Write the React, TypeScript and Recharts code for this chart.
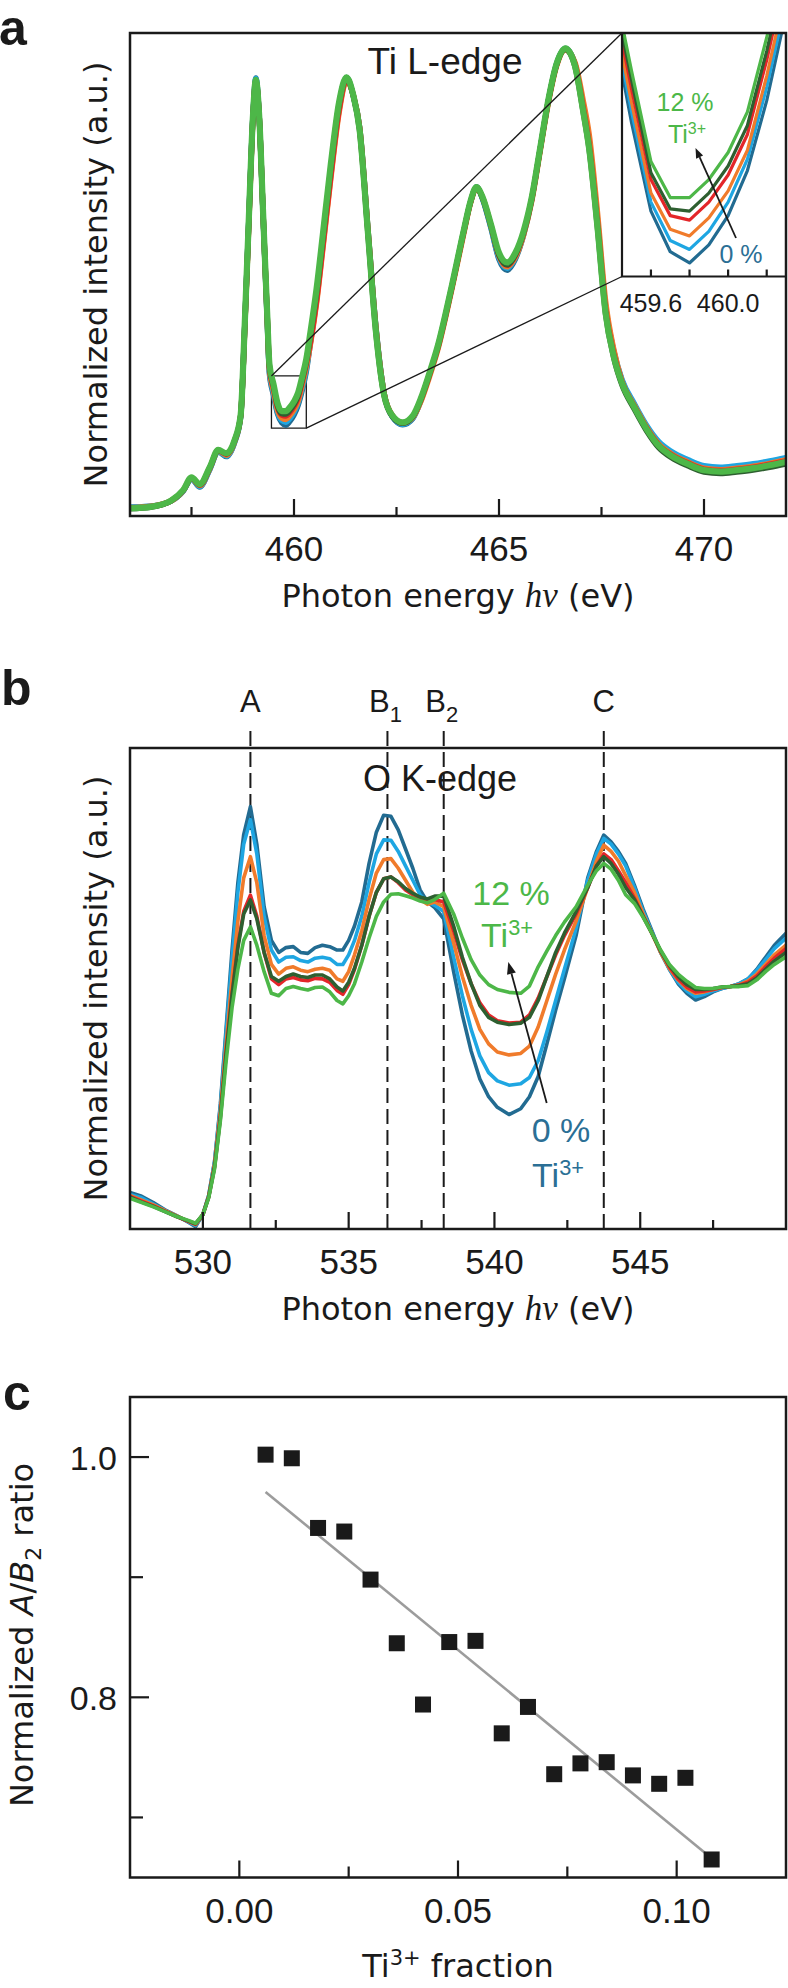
import React from "react";
import { LineChart, Line, XAxis, YAxis, ReferenceArea, ReferenceLine, ScatterChart, Scatter } from "recharts";

const SANS = "'Liberation Sans', Arial, Helvetica, sans-serif";
const TITLE_FONT = "'DejaVu Sans', 'Liberation Sans', sans-serif";
const SERIF = "'Liberation Serif', 'Times New Roman', serif";
const INK = "#1a1a1a";
const GREEN_TXT = "#4cb848";
const BLUE_TXT = "#2b6f95";

// 0 % Ti3+ ... 12 % Ti3+
const seriesColors = ["#226b91", "#1ea6e2", "#f07b2b", "#e32629", "#2e5f30", "#4db748"];
const seriesKeys = ["s0", "s1", "s2", "s3", "s4", "s5"];

// ---------- panel a : Ti L-edge ----------
const tiEnergy = [
  456.0, 456.5, 457.0, 457.3, 457.5, 457.7, 457.95, 458.15, 458.35, 458.55,
  458.7, 458.8, 458.9, 459.0, 459.07, 459.15, 459.25, 459.35, 459.4, 459.5,
  459.6, 459.7, 459.8, 459.9, 460.0, 460.1, 460.2, 460.3, 460.4, 460.55,
  460.7, 460.9, 461.1, 461.28, 461.45, 461.6, 461.8, 462.0, 462.2, 462.4,
  462.65, 462.9, 463.1, 463.3, 463.5, 463.85, 464.15, 464.3, 464.45, 464.6,
  464.8, 465.0, 465.2, 465.4, 465.6, 465.8, 466.0, 466.2, 466.4, 466.62,
  466.85, 467.05, 467.2, 467.4, 467.6, 467.8, 468.0, 468.3, 468.6, 468.9,
  469.2, 469.6, 470.0, 470.4, 470.8, 471.2, 471.6, 472.0,
];
const tiDarkBlue = [
  1.8, 2.0, 3.1, 5.2, 7.7, 6.0, 9.7, 13.3, 12.3, 15.2,
  20.5, 39.5, 61.7, 83.0, 90.7, 83.0, 61.4, 39.7, 29.5, 25.0,
  21.1, 19.3, 18.8, 19.6, 20.9, 22.9, 26.0, 29.9, 35.8, 45.2,
  56.5, 71.8, 85.1, 90.8, 86.8, 80.5, 59.8, 39.0, 25.3, 20.5,
  18.9, 20.2, 24.0, 29.1, 34.5, 47.3, 59.2, 64.8, 68.1, 65.6,
  59.7, 53.1, 50.9, 53.2, 58.2, 65.5, 75.7, 85.8, 93.5, 96.8,
  93.6, 85.2, 77.5, 61.6, 43.3, 34.0, 28.0, 23.0, 18.5, 15.1,
  13.1, 11.4, 10.1, 9.8, 10.1, 10.6, 11.2, 11.9,
];
const tiLightBlue = [
  1.8, 2.0, 3.1, 5.2, 7.7, 6.1, 9.8, 13.4, 12.4, 15.3,
  20.6, 39.6, 61.8, 83.0, 90.6, 83.0, 61.5, 40.0, 29.9, 25.5,
  21.5, 19.8, 19.4, 20.2, 21.5, 23.4, 26.6, 30.4, 36.2, 45.6,
  56.8, 72.0, 85.2, 90.8, 86.9, 80.4, 59.6, 38.8, 25.2, 20.6,
  19.0, 20.3, 24.1, 29.2, 34.6, 47.4, 59.3, 64.8, 68.1, 65.7,
  59.9, 53.4, 51.3, 53.5, 58.4, 65.6, 75.8, 85.8, 93.5, 96.8,
  93.6, 85.0, 77.3, 61.5, 43.3, 34.2, 28.3, 23.3, 18.8, 15.4,
  13.4, 11.7, 10.4, 10.1, 10.4, 10.8, 11.4, 12.1,
];
const tiOrange = [
  1.7, 2.0, 3.1, 5.3, 7.8, 6.3, 9.9, 13.5, 12.6, 15.4,
  20.7, 39.0, 61.0, 82.5, 90.0, 83.0, 61.6, 40.2, 30.3, 25.9,
  21.9, 20.3, 20.0, 20.8, 22.0, 23.8, 27.1, 30.9, 35.5, 44.0,
  55.0, 70.0, 83.5, 90.0, 87.0, 80.5, 59.8, 38.8, 25.3, 20.8,
  19.2, 20.4, 23.8, 28.7, 34.2, 46.9, 58.8, 64.6, 67.8, 65.9,
  60.2, 53.8, 51.6, 53.6, 58.2, 65.2, 75.3, 85.3, 93.0, 96.5,
  94.0, 86.2, 79.0, 63.0, 44.5, 34.5, 27.9, 22.9, 18.4, 14.9,
  12.9, 11.2, 9.9, 9.6, 9.9, 10.3, 10.9, 11.6,
];
const tiRed = [
  1.6, 1.9, 3.2, 5.3, 7.9, 6.4, 10.0, 13.6, 12.8, 15.5,
  20.8, 39.2, 61.2, 82.6, 90.0, 82.8, 61.8, 40.6, 30.8, 26.5,
  22.5, 20.9, 20.7, 21.5, 22.7, 24.5, 27.8, 31.6, 36.0, 44.5,
  55.5, 70.5, 84.0, 90.3, 87.0, 80.3, 59.4, 38.5, 25.2, 20.8,
  19.3, 20.6, 24.2, 29.1, 34.6, 47.3, 59.2, 64.8, 68.0, 65.9,
  60.3, 54.0, 51.9, 54.0, 58.6, 65.7, 75.7, 85.7, 93.3, 96.7,
  93.6, 84.8, 77.0, 61.0, 42.8, 33.5, 27.7, 22.7, 18.2, 14.7,
  12.7, 11.0, 9.7, 9.4, 9.7, 10.1, 10.7, 11.4,
];
const tiDarkGreen = [
  1.5, 1.8, 3.1, 5.3, 7.9, 6.5, 10.1, 13.6, 12.9, 15.6,
  20.9, 39.6, 61.6, 82.8, 90.0, 82.8, 61.8, 40.8, 31.1, 26.9,
  22.8, 21.2, 21.1, 21.9, 23.1, 24.9, 28.2, 32.0, 37.4, 46.2,
  57.2, 72.3, 85.3, 90.6, 86.9, 79.8, 58.8, 37.8, 24.8, 20.6,
  19.2, 20.6, 24.3, 29.3, 34.8, 47.5, 59.4, 64.9, 68.0, 65.8,
  60.2, 54.0, 52.0, 54.1, 58.7, 65.8, 75.8, 85.8, 93.3, 96.6,
  93.1, 83.8, 75.8, 59.8, 41.8, 32.7, 27.1, 22.1, 17.6, 14.1,
  12.1, 10.4, 9.1, 8.8, 9.1, 9.5, 10.1, 10.8,
];
const tiGreen = [
  1.6, 1.9, 3.2, 5.4, 8.0, 6.6, 10.2, 13.7, 13.0, 15.7,
  21.0, 40.0, 62.0, 83.0, 90.3, 83.0, 62.0, 41.0, 31.5, 27.3,
  23.3, 21.7, 21.7, 22.5, 23.7, 25.5, 28.8, 32.5, 38.0, 47.0,
  58.0, 73.0, 85.7, 90.8, 87.0, 80.0, 59.0, 38.0, 25.0, 20.8,
  19.4, 20.8, 24.5, 29.5, 35.0, 47.7, 59.5, 65.0, 68.1, 66.0,
  60.5, 54.5, 52.5, 54.5, 59.0, 66.0, 76.0, 86.0, 93.5, 96.8,
  93.3, 84.0, 76.0, 60.0, 42.0, 33.0, 27.5, 22.5, 18.0, 14.5,
  12.5, 10.8, 9.5, 9.2, 9.5, 9.9, 10.5, 11.2,
];
const tiDomain = [456, 472];
const tiTicks = [457.5, 460, 462.5, 465, 467.5, 470];
const tiTickLabels = ["", "460", "", "465", "", "470"];
// zoomed inset
const insetX = [459.45, 460.3];
const insetY = [18.2, 29.0];
const insetTicks = [459.6, 459.8, 460.0, 460.2];
const insetTickLabels = ["459.6", "", "460.0", ""];

// ---------- panel b : O K-edge ----------
const oEnergy = [
  527.5, 527.9, 528.3, 528.7, 529.1, 529.5, 529.75, 530.0, 530.2, 530.4,
  530.6, 530.8, 531.0, 531.2, 531.4, 531.63, 531.85, 532.1, 532.35, 532.6,
  532.85, 533.1, 533.35, 533.6, 533.85, 534.1, 534.35, 534.6, 534.8, 535.0,
  535.2, 535.45, 535.7, 535.95, 536.2, 536.45, 536.7, 536.95, 537.2, 537.45,
  537.7, 537.95, 538.26, 538.6, 538.9, 539.2, 539.5, 539.8, 540.1, 540.5,
  540.9, 541.2, 541.5, 541.8, 542.1, 542.4, 542.8, 543.2, 543.5, 543.75,
  544.0, 544.25, 544.5, 544.8, 545.1, 545.4, 545.7, 546.0, 546.3, 546.6,
  546.9, 547.2, 547.5, 547.8, 548.1, 548.4, 548.7, 549.0, 549.3, 549.6,
  550.0,
];
const oDarkBlue = [
  7.6, 6.8, 5.5, 4.0, 2.8, 1.4, 0.5, 3.0, 7.0, 14.0,
  26.0, 42.0, 58.0, 72.0, 82.0, 87.8, 80.0, 67.0, 60.0, 57.5,
  58.5, 58.7, 57.5, 57.3, 58.5, 59.0, 58.7, 58.0, 58.0, 60.0,
  63.0, 68.0, 76.0, 82.5, 86.0, 85.8, 83.0, 79.0, 75.0, 70.5,
  68.0, 66.8, 64.5, 53.5, 44.5, 37.0, 31.2, 27.5, 25.3, 23.8,
  25.0, 27.5, 31.7, 38.5, 45.5, 52.0, 61.0, 73.0, 78.5, 81.9,
  80.5, 78.5, 76.0, 71.5, 66.5, 62.0, 57.5, 54.0, 51.0, 49.0,
  47.6, 48.3, 49.3, 50.0, 50.4, 51.0, 52.0, 54.0, 56.5, 59.0,
  61.5,
];
const oLightBlue = [
  7.2, 6.5, 5.2, 3.9, 2.7, 1.5, 0.7, 3.0, 7.0, 14.0,
  25.5, 41.0, 56.0, 70.0, 80.0, 85.1, 78.0, 65.0, 58.0, 55.5,
  56.5, 56.6, 55.8, 55.5, 56.3, 56.5, 56.2, 55.0, 55.0, 57.0,
  60.0, 65.0, 72.0, 78.0, 80.9, 80.8, 78.5, 75.5, 72.5, 69.5,
  68.0, 67.3, 66.0, 56.5, 48.5, 41.5, 36.0, 32.5, 30.8, 29.9,
  30.2, 31.5, 35.0, 41.0, 47.5, 54.0, 62.5, 72.5, 78.0, 81.2,
  80.0, 78.0, 75.5, 71.0, 66.0, 61.8, 57.5, 54.0, 51.3, 49.5,
  48.3, 48.8, 49.5, 50.0, 50.4, 51.0, 52.0, 53.8, 56.0, 58.3,
  60.5,
];
const oOrange = [
  7.0, 6.0, 5.0, 3.8, 2.7, 1.6, 0.9, 3.0, 6.8, 13.5,
  24.5, 38.5, 52.0, 64.0, 73.0, 77.4, 72.0, 61.0, 55.0, 53.0,
  54.2, 54.5, 53.8, 53.5, 54.0, 54.2, 53.8, 52.0, 51.5, 53.5,
  57.0, 62.0, 68.5, 74.0, 76.8, 77.0, 75.0, 72.5, 70.0, 68.5,
  67.5, 68.0, 67.0, 59.5, 52.5, 46.5, 41.5, 38.5, 36.8, 36.2,
  36.5, 38.0, 42.0, 47.5, 53.0, 58.0, 64.0, 71.0, 76.5, 79.8,
  78.5, 76.5, 73.5, 70.0, 65.5, 61.5, 57.5, 54.2, 51.8, 50.0,
  49.0, 49.3, 49.8, 50.2, 50.4, 50.8, 51.6, 53.0, 55.0, 57.0,
  59.0,
];
const oRed = [
  6.8, 5.8, 4.8, 3.7, 2.6, 1.6, 1.0, 3.0, 6.7, 13.0,
  23.5, 37.0, 49.0, 59.0, 66.0, 69.4, 65.0, 57.5, 52.0, 50.8,
  52.0, 52.3, 51.8, 51.6, 52.1, 52.0, 51.3, 49.6, 48.8, 50.8,
  54.0, 59.0, 65.0, 70.0, 72.8, 73.2, 72.0, 70.5, 69.5, 68.8,
  68.2, 68.5, 68.0, 62.0, 56.0, 51.0, 47.0, 44.5, 43.3, 42.8,
  43.0, 44.5, 48.0, 52.5, 57.0, 61.0, 65.5, 71.0, 75.5, 78.0,
  76.8, 74.5, 72.0, 68.8, 65.0, 61.5, 57.8, 54.5, 52.0, 50.3,
  49.3, 49.5, 49.8, 50.2, 50.4, 50.7, 51.3, 52.6, 54.5, 56.3,
  58.3,
];
const oDarkGreen = [
  6.6, 5.6, 4.7, 3.6, 2.6, 1.7, 1.1, 3.0, 6.6, 12.8,
  23.0, 36.5, 48.5, 58.5, 65.5, 68.4, 64.5, 57.5, 52.5, 51.5,
  52.5, 53.0, 52.5, 52.3, 52.8, 52.8, 52.0, 50.3, 49.5, 51.3,
  54.2, 59.0, 65.0, 70.0, 72.8, 73.2, 72.2, 70.8, 69.8, 69.0,
  68.6, 69.2, 69.2, 63.0, 56.5, 51.0, 46.5, 44.0, 43.0, 42.5,
  42.8, 44.0, 47.5, 52.5, 57.5, 61.5, 66.0, 71.0, 75.5, 77.4,
  76.0, 73.8, 71.0, 68.5, 65.0, 61.5, 57.8, 54.8, 52.5, 50.8,
  49.8, 49.8, 50.0, 50.3, 50.4, 50.6, 51.0, 52.2, 54.0, 55.7,
  57.5,
];
const oGreen = [
  6.4, 5.5, 4.6, 3.6, 2.6, 1.8, 1.2, 3.0, 6.5, 12.5,
  22.5, 35.0, 46.0, 54.0, 60.0, 62.8, 59.0, 53.5, 49.0, 48.5,
  50.0, 50.4, 50.0, 49.7, 50.2, 50.3, 49.3, 47.5, 46.8, 48.5,
  51.0, 55.5, 60.5, 65.0, 68.0, 69.6, 69.7, 69.3, 68.8, 68.2,
  67.8, 68.5, 69.8, 65.5, 60.5, 56.0, 52.8, 50.8, 49.8, 49.2,
  49.0, 50.5, 54.5, 57.8, 61.0, 63.8, 67.0, 71.5, 74.5, 76.0,
  74.8, 72.5, 69.5, 67.7, 64.8, 61.5, 58.0, 55.0, 53.0, 51.5,
  50.2, 50.0, 50.0, 50.3, 50.4, 50.4, 50.6, 51.8, 53.5, 55.0,
  56.6,
];
const oDomain = [527.5, 550];
const oTicks = [530, 532.5, 535, 537.5, 540, 542.5, 545, 547.5];
const oTickLabels = ["530", "", "535", "", "540", "", "545", ""];
const oPeakEnergy = [531.63, 536.33, 538.26, 543.75];
const oPeakNames = ["A", "B", "B", "C"];
const oPeakSubs = ["", "1", "2", ""];

// ---------- panel c : A/B2 ratio ----------
const ti3Fraction = [0.006, 0.012, 0.018, 0.024, 0.03, 0.036, 0.042, 0.048, 0.054, 0.06, 0.066, 0.072, 0.078, 0.084, 0.09, 0.096, 0.102, 0.108];
const abRatio = [1.002, 0.999, 0.941, 0.938, 0.898, 0.845, 0.794, 0.846, 0.847, 0.77, 0.792, 0.736, 0.745, 0.746, 0.735, 0.728, 0.733, 0.665];
const fitX = [0.006, 0.107];
const fitY = [0.971, 0.669];
const fracTicks = [0, 0.025, 0.05, 0.075, 0.1];
const fracTickLabels = ["0.00", "", "0.05", "", "0.10"];
const ratioTicks = [0.7, 0.8, 0.9, 1.0];
const ratioTickLabels = ["", "0.8", "", "1.0"];

// ---------- layout (page pixels) ----------
const W = 788;
const boxA = { left: 130, right: 786, top: 33, bottom: 516 };
const boxB = { left: 130, right: 786, top: 748, bottom: 1229 };
const boxC = { left: 130, right: 786, top: 1397, bottom: 1877.5 };
const boxInset = { left: 622, right: 786, top: 33, bottom: 276.5 };
const chartA = { top: 0, height: 640 };
const chartB = { top: 640, height: 700 };
const chartC = { top: 1340, height: 648 };
const insetPad = 24;

const rows = (energy: number[], cols: number[][]) =>
  energy.map((e, i) => {
    const r: any = { e };
    cols.forEach((c, k) => (r[seriesKeys[k]] = c[i]));
    return r;
  });

const tiRows = rows(tiEnergy, [tiDarkBlue, tiLightBlue, tiOrange, tiRed, tiDarkGreen, tiGreen]);
const insetRows = tiRows.filter((r) => r.e >= 459.3 && r.e <= 460.45);
const oRows = rows(oEnergy, [oDarkBlue, oLightBlue, oOrange, oRed, oDarkGreen, oGreen]);
const ratioRows = ti3Fraction.map((x, i) => ({ x, y: abRatio[i] }));
const fitRows = fitX.map((x, i) => ({ x, y: fitY[i] }));

// page-pixel helpers for the annotations layer
const ax = (e: number) => boxA.left + ((e - tiDomain[0]) / (tiDomain[1] - tiDomain[0])) * (boxA.right - boxA.left);
const ay = (v: number) => boxA.bottom - (v / 100) * (boxA.bottom - boxA.top);
const bx = (e: number) => boxB.left + ((e - oDomain[0]) / (oDomain[1] - oDomain[0])) * (boxB.right - boxB.left);

const bottomTick = (ticks: number[], labels: string[], axisY: number, major: number, minor: number, fontSize: number, dy: number) =>
  (props: any) => {
    const { x, payload } = props;
    const label = labels[ticks.indexOf(payload.value)] || "";
    return (
      <g>
        <line x1={x} x2={x} y1={axisY} y2={axisY - (label ? major : minor)} stroke={INK} strokeWidth={2.2} />
        {label ? (
          <text x={x} y={axisY + dy} textAnchor="middle" fontFamily={SANS} fontSize={fontSize} fill={INK}>
            {label}
          </text>
        ) : null}
      </g>
    );
  };

const leftTick = (ticks: number[], labels: string[], axisX: number) => (props: any) => {
  const { y, payload } = props;
  const label = labels[ticks.indexOf(payload.value)] || "";
  return (
    <g>
      <line x1={axisX} x2={axisX + (label ? 19 : 13)} y1={y} y2={y} stroke={INK} strokeWidth={2.2} />
      {label ? (
        <text x={axisX - 13} y={y + 13} textAnchor="end" fontFamily={SANS} fontSize={34} fill={INK}>
          {label}
        </text>
      ) : null}
    </g>
  );
};

const Square = (props: any) => {
  const { cx, cy } = props;
  return <rect x={cx - 8} y={cy - 8} width={16} height={16} fill={INK} />;
};

const Arrow = ({ x1, y1, x2, y2, head = 12 }: any) => {
  const a = Math.atan2(y2 - y1, x2 - x1);
  const hx = x2 - head * Math.cos(a);
  const hy = y2 - head * Math.sin(a);
  const px = -Math.sin(a) * head * 0.38;
  const py = Math.cos(a) * head * 0.38;
  return (
    <g>
      <line x1={x1} y1={y1} x2={hx} y2={hy} stroke={INK} strokeWidth={1.8} />
      <polygon points={`${x2},${y2} ${hx + px},${hy + py} ${hx - px},${hy - py}`} fill={INK} />
    </g>
  );
};

const TiIon = ({ x, y, size, color }: any) => (
  <text x={x} y={y} textAnchor="middle" fontFamily={SANS} fontSize={size} fill={color}>
    Ti
    <tspan fontSize={size * 0.64} dy={-size * 0.36}>3+</tspan>
  </text>
);

const YTitle = ({ x, y, children }: any) => (
  <text transform={`rotate(-90 ${x} ${y})`} x={x} y={y} textAnchor="middle" fontFamily={TITLE_FONT} fontSize={32} fill={INK}>
    {children}
  </text>
);

const EnergyTitle = ({ y }: any) => (
  <text x={(boxA.left + boxA.right) / 2} y={y} textAnchor="middle" fontFamily={TITLE_FONT} fontSize={32} fill={INK}>
    Photon energy{" "}
    <tspan fontFamily={SERIF} fontStyle="italic" fontSize={35}>hν</tspan>
    {" "}(eV)
  </text>
);

const seriesLines = (type: any, widths: number[]) =>
  seriesKeys.map((k, i) => (
    <Line
      key={k}
      dataKey={k}
      type={type}
      stroke={seriesColors[i]}
      strokeWidth={widths[i]}
      strokeLinejoin="round"
      dot={false}
      activeDot={false}
      isAnimationActive={false}
    />
  ));

export default function App() {
  const aAxisY = boxA.bottom - chartA.top;
  const bAxisY = boxB.bottom - chartB.top;
  const cAxisY = boxC.bottom - chartC.top;
  const insetW = boxInset.right - boxInset.left;
  const insetH = boxInset.bottom - boxInset.top;

  return (
    <div style={{ position: "absolute", left: 0, top: 0, width: W, height: 1988, background: "#fff", overflow: "hidden" }}>
      {/* a: main */}
      <div style={{ position: "absolute", left: 0, top: chartA.top }}>
        <LineChart width={W} height={chartA.height} data={tiRows} margin={{ top: boxA.top - chartA.top, right: W - boxA.right, left: boxA.left, bottom: 0 }}>
          <XAxis
            dataKey="e"
            type="number"
            domain={tiDomain}
            allowDataOverflow
            ticks={tiTicks}
            interval={0}
            height={chartA.height - aAxisY}
            axisLine={false}
            tickLine={false}
            tickSize={0}
            tickMargin={0}
            tick={bottomTick(tiTicks, tiTickLabels, aAxisY, 17, 9, 35, 45)}
          />
          <YAxis hide type="number" domain={[0, 100]} allowDataOverflow />
          {seriesLines("monotone", [5.5, 5.5, 5.5, 5.5, 5.5, 6.2])}
          <ReferenceArea x1={insetX[0]} x2={insetX[1]} y1={insetY[0]} y2={insetY[1]} fill="none" fillOpacity={0} stroke={INK} strokeWidth={1.3} ifOverflow="visible" />
        </LineChart>
      </div>

      {/* a: inset */}
      <div style={{ position: "absolute", left: boxInset.left, top: boxInset.top, width: insetW, height: insetH, background: "#fff" }} />
      <div style={{ position: "absolute", left: boxInset.left - insetPad, top: boxInset.top }}>
        <LineChart width={insetW + insetPad} height={300} data={insetRows} margin={{ top: 0, right: 0, left: insetPad, bottom: 0 }}>
          <XAxis
            dataKey="e"
            type="number"
            domain={insetX}
            allowDataOverflow
            ticks={insetTicks}
            interval={0}
            height={300 - insetH}
            axisLine={false}
            tickLine={false}
            tickSize={0}
            tickMargin={0}
            tick={bottomTick(insetTicks, insetTickLabels, insetH, 7, 7, 25, 35)}
          />
          <YAxis hide type="number" domain={insetY} allowDataOverflow />
          {seriesLines("linear", [3.2, 3.2, 3.2, 3.2, 3.2, 3.2])}
        </LineChart>
      </div>

      {/* b */}
      <div style={{ position: "absolute", left: 0, top: chartB.top }}>
        <LineChart width={W} height={chartB.height} data={oRows} margin={{ top: boxB.top - chartB.top, right: W - boxB.right, left: boxB.left, bottom: 0 }}>
          <XAxis
            dataKey="e"
            type="number"
            domain={oDomain}
            allowDataOverflow
            ticks={oTicks}
            interval={0}
            height={chartB.height - bAxisY}
            axisLine={false}
            tickLine={false}
            tickSize={0}
            tickMargin={0}
            tick={bottomTick(oTicks, oTickLabels, bAxisY, 17, 9, 35, 45)}
          />
          <YAxis hide type="number" domain={[0, 100]} allowDataOverflow />
          {oPeakEnergy.map((e) => (
            <ReferenceLine
              key={e}
              segment={[{ x: e, y: 0 }, { x: e, y: 103.7 }]}
              stroke={INK}
              strokeWidth={2}
              strokeDasharray="15 6"
              ifOverflow="visible"
            />
          ))}
          {seriesLines("linear", [3.6, 3.6, 3.6, 3.6, 3.6, 3.6])}
        </LineChart>
      </div>

      {/* c */}
      <div style={{ position: "absolute", left: 0, top: chartC.top }}>
        <ScatterChart width={W} height={chartC.height} margin={{ top: boxC.top - chartC.top, right: W - boxC.right, left: 0, bottom: 0 }}>
          <XAxis
            dataKey="x"
            type="number"
            domain={[-0.025, 0.125]}
            allowDataOverflow
            ticks={fracTicks}
            interval={0}
            height={chartC.height - cAxisY}
            axisLine={false}
            tickLine={false}
            tickSize={0}
            tickMargin={0}
            tick={bottomTick(fracTicks, fracTickLabels, cAxisY, 17, 11, 35, 45.5)}
          />
          <YAxis
            dataKey="y"
            type="number"
            domain={[0.65, 1.05]}
            allowDataOverflow
            ticks={ratioTicks}
            interval={0}
            width={boxC.left}
            axisLine={false}
            tickLine={false}
            tickSize={0}
            tickMargin={0}
            tick={leftTick(ratioTicks, ratioTickLabels, boxC.left)}
          />
          <Scatter data={fitRows} line={{ stroke: "#9c9c9c", strokeWidth: 2.6 }} shape={() => <g />} isAnimationActive={false} />
          <Scatter data={ratioRows} shape={Square} isAnimationActive={false} />
        </ScatterChart>
      </div>

      {/* annotations */}
      <svg width={W} height={1988} style={{ position: "absolute", left: 0, top: 0, pointerEvents: "none" }}>
        {[boxA, boxB, boxC].map((b, i) => (
          <rect key={i} x={b.left} y={b.top} width={b.right - b.left} height={b.bottom - b.top} fill="none" stroke={INK} strokeWidth={2.5} />
        ))}
        <polyline points={`${boxInset.left},${boxInset.top} ${boxInset.left},${boxInset.bottom} ${boxInset.right},${boxInset.bottom}`} fill="none" stroke={INK} strokeWidth={2.2} />
        <line x1={ax(insetX[0])} y1={ay(insetY[1])} x2={boxInset.left} y2={boxInset.top} stroke={INK} strokeWidth={1.3} />
        <line x1={ax(insetX[1])} y1={ay(insetY[0])} x2={boxInset.left} y2={boxInset.bottom} stroke={INK} strokeWidth={1.3} />

        {/* panel letters */}
        <text x={-1} y={45} fontFamily={SANS} fontWeight="bold" fontSize={50} fill={INK}>a</text>
        <text x={1} y={705} fontFamily={SANS} fontWeight="bold" fontSize={50} fill={INK}>b</text>
        <text x={3} y={1410} fontFamily={SANS} fontWeight="bold" fontSize={50} fill={INK}>c</text>

        {/* a */}
        <text x={445} y={74} textAnchor="middle" fontFamily={SANS} fontSize={37} fill={INK}>Ti L-edge</text>
        <text x={685} y={111} textAnchor="middle" fontFamily={SANS} fontSize={25} fill={GREEN_TXT}>12 %</text>
        <TiIon x={687} y={143} size={25} color={GREEN_TXT} />
        <text x={741} y={263} textAnchor="middle" fontFamily={SANS} fontSize={25} fill={BLUE_TXT}>0 %</text>
        <Arrow x1={736} y1={238} x2={695.5} y2={148} head={10} />
        <YTitle x={107} y={(boxA.top + boxA.bottom) / 2}>Normalized intensity (a.u.)</YTitle>
        <EnergyTitle y={607} />

        {/* b */}
        {oPeakEnergy.map((e, i) => (
          <text key={i} x={bx(e) + (oPeakSubs[i] ? -2 : 0)} y={712} textAnchor="middle" fontFamily={SANS} fontSize={31} fill={INK}>
            {oPeakNames[i]}
            {oPeakSubs[i] ? <tspan fontSize={22} dy={10}>{oPeakSubs[i]}</tspan> : null}
          </text>
        ))}
        <text x={440} y={791} textAnchor="middle" fontFamily={SANS} fontSize={36} fill={INK}>O K-edge</text>
        <text x={511} y={905} textAnchor="middle" fontFamily={SANS} fontSize={34} fill={GREEN_TXT}>12 %</text>
        <TiIon x={507} y={947} size={34} color={GREEN_TXT} />
        <text x={561} y={1142} textAnchor="middle" fontFamily={SANS} fontSize={34} fill={BLUE_TXT}>0 %</text>
        <TiIon x={558} y={1187} size={34} color={BLUE_TXT} />
        <Arrow x1={546.7} y1={1103} x2={508.3} y2={962} head={12} />
        <YTitle x={107} y={(boxB.top + boxB.bottom) / 2}>Normalized intensity (a.u.)</YTitle>
        <EnergyTitle y={1320} />

        {/* c */}
        <YTitle x={33} y={1635}>
          Normalized <tspan fontStyle="italic">A</tspan>/<tspan fontStyle="italic">B</tspan>
          <tspan fontSize={22} dy={8}>2</tspan>
          <tspan dy={-8}> ratio</tspan>
        </YTitle>
        <text x={(boxC.left + boxC.right) / 2} y={1977} textAnchor="middle" fontFamily={TITLE_FONT} fontSize={32} fill={INK}>
          Ti<tspan fontSize={21} dy={-12}>3+</tspan>
          <tspan dy={12}> fraction</tspan>
        </text>
      </svg>
    </div>
  );
}
